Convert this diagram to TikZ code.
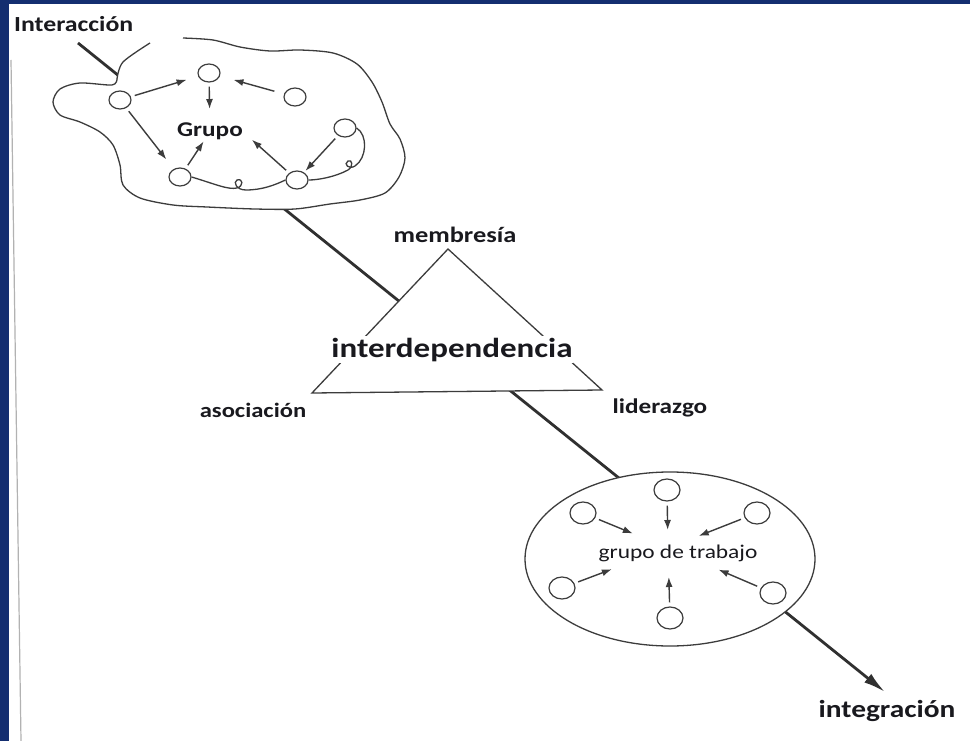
\documentclass[tikz,border=0pt]{standalone}
\usepackage{fontspec}
\setmainfont{Carlito}
\usepackage{graphicx}
\usetikzlibrary{arrows.meta,shapes.geometric}
\definecolor{slideblue}{RGB}{20,46,112}
\definecolor{ink}{RGB}{60,60,60}
\definecolor{txt}{RGB}{25,25,30}
\newcommand{\widetxt}[1]{\scalebox{1.2}[1]{#1}}
\begin{document}
\begin{tikzpicture}[x=1pt, y=-1pt,
    dot/.style={ellipse, draw=ink, line width=1.2pt, fill=white, minimum width=22pt, minimum height=18pt, inner sep=0pt},
    bigdot/.style={dot, minimum width=26pt, minimum height=22pt},
    arr/.style={ink, line width=1.4pt, -{Latex[length=10pt,width=7pt]}, shorten <=4pt},
    outline/.style={ink, line width=1.3pt},
    lbl/.style={text=txt, inner sep=0pt, anchor=base}]
    \useasboundingbox (0,0) rectangle (970,741);
    \fill [slideblue] (0,0) rectangle (970,741);
    \fill [white] (9,4) rectangle (970,741);
    \draw [gray!60, line width=1.2pt] (11,60) -- (21,741);

    \coordinate (start) at (78,43);
    \coordinate (end) at (885,692);
    \draw [ink!80!black, line width=2.8pt, -{Latex[length=22pt,width=11pt]}] (start) -- (end);

    \fill [white] plot [smooth cycle] coordinates {(117,79) (123,62) (150,43) (183,38) (213,40) (240,47) (270,51) (300,50) (333,53) (357,64) (372,82) (382,102) (390,124) (400,139) (405,158) (399,177) (385,193) (360,200) (330,204) (295,209) (255,209) (207,207) (173,205) (140,198) (123,185) (120,165) (113,145) (100,132) (80,122) (60,115) (53,102) (60,89) (80,83) (112,85)};
    \draw [outline] plot [smooth] coordinates {(117,79) (123,62) (150,43)};
    \draw [outline] plot [smooth] coordinates {(183,38) (213,40) (240,47) (270,51) (300,50) (333,53) (357,64) (372,82) (382,102) (390,124) (400,139) (405,158) (399,177) (385,193) (360,200) (330,204) (295,209) (255,209) (207,207) (173,205) (140,198) (123,185) (120,165) (113,145) (100,132) (80,122) (60,115) (53,102) (60,89) (80,83) (112,85) (117,79)};

    \coordinate (apex) at (448,249);
    \coordinate (left) at (312,393);
    \coordinate (right) at (602,390);
    \draw [outline, fill=white] (apex) -- (left) -- (right) -- cycle;

    \node [ellipse, draw=ink, line width=1.3pt, fill=white, minimum width=290pt, minimum height=174pt] (team) at (670,559) {};

    \node [dot] (g1) at (120,100) {};
    \node [dot] (g2) at (209,73) {};
    \node [dot] (g3) at (295,97) {};
    \node [dot] (g4) at (345,128) {};
    \node [dot] (g5) at (180,177) {};
    \node [dot] (g6) at (297,180) {};
    \node [lbl, font=\fontsize{21}{25}\selectfont\bfseries] (grp) at (210,137) {\widetxt{Grupo}};

    \draw [arr, shorten >=12pt] (g1) -- (g2);
    \draw [arr, shorten >=14pt] (g2) -- (grp);
    \draw [arr, shorten <=10pt, shorten >=14pt] (g3) -- (g2);
    \draw [arr, shorten >=12pt] (g1) -- (g5);
    \draw [arr, shorten >=1pt] (g5) -- (grp);
    \draw [arr, shorten >=2pt] (g4) -- (g6);
    \draw [arr, shorten >=12pt] (g6) -- (grp.east);
    \draw [outline] (g5.east) .. controls (215,184) and (228,190) .. (237,188) .. controls (244,186) and (243,178) .. (237,180) .. controls (233,182) and (236,190) .. (246,190) .. controls (262,190) and (275,185) .. (g6.west);
    \draw [outline] (g4.east) .. controls (368,135) and (367,158) .. (355,166) .. controls (349,170) and (343,164) .. (348,161) .. controls (352,159) and (354,166) .. (348,170) .. controls (335,177) and (318,180) .. (g6.east);

    \coordinate (hub) at (668,548);
    \node [bigdot] (t1) at (583,513) {};
    \node [bigdot] (t2) at (667,490) {};
    \node [bigdot] (t3) at (757,513) {};
    \node [bigdot] (t4) at (562,588) {};
    \node [bigdot] (t5) at (670,618) {};
    \node [bigdot] (t6) at (773,593) {};
    \draw [arr, shorten >=38pt] (t1) -- (hub);
    \draw [arr, shorten >=18pt] (t2) -- (hub);
    \draw [arr, shorten >=33pt] (t3) -- (hub);
    \draw [arr, shorten >=60pt] (t4) -- (hub);
    \draw [arr, shorten >=29pt] (t5) -- (hub);
    \draw [arr, shorten >=55pt] (t6) -- (hub);
    \node [lbl, font=\fontsize{19.5}{23}\selectfont] (gdt) at (678,558) {\widetxt{grupo de trabajo}};

    \node [lbl, anchor=base west, font=\fontsize{21.5}{25}\selectfont\bfseries] (inter) at (14,32) {\widetxt{Interacción}};
    \node [lbl, font=\fontsize{22}{26}\selectfont\bfseries] (memb) at (455,242) {\widetxt{membresía}};
    \node [lbl, fill=white, inner ysep=2pt, font=\fontsize{27.5}{32}\selectfont\bfseries] (interdep) at (452,357) {\widetxt{interdependencia}};
    \node [lbl, font=\fontsize{20.5}{24}\selectfont\bfseries] (asoc) at (253,417) {\widetxt{asociación}};
    \node [lbl, font=\fontsize{21}{25}\selectfont\bfseries] (lider) at (660,413) {\widetxt{liderazgo}};
    \node [lbl, font=\fontsize{24.5}{29}\selectfont\bfseries] (integ) at (887,717) {\widetxt{integración}};
  \end{tikzpicture}
\end{document}
